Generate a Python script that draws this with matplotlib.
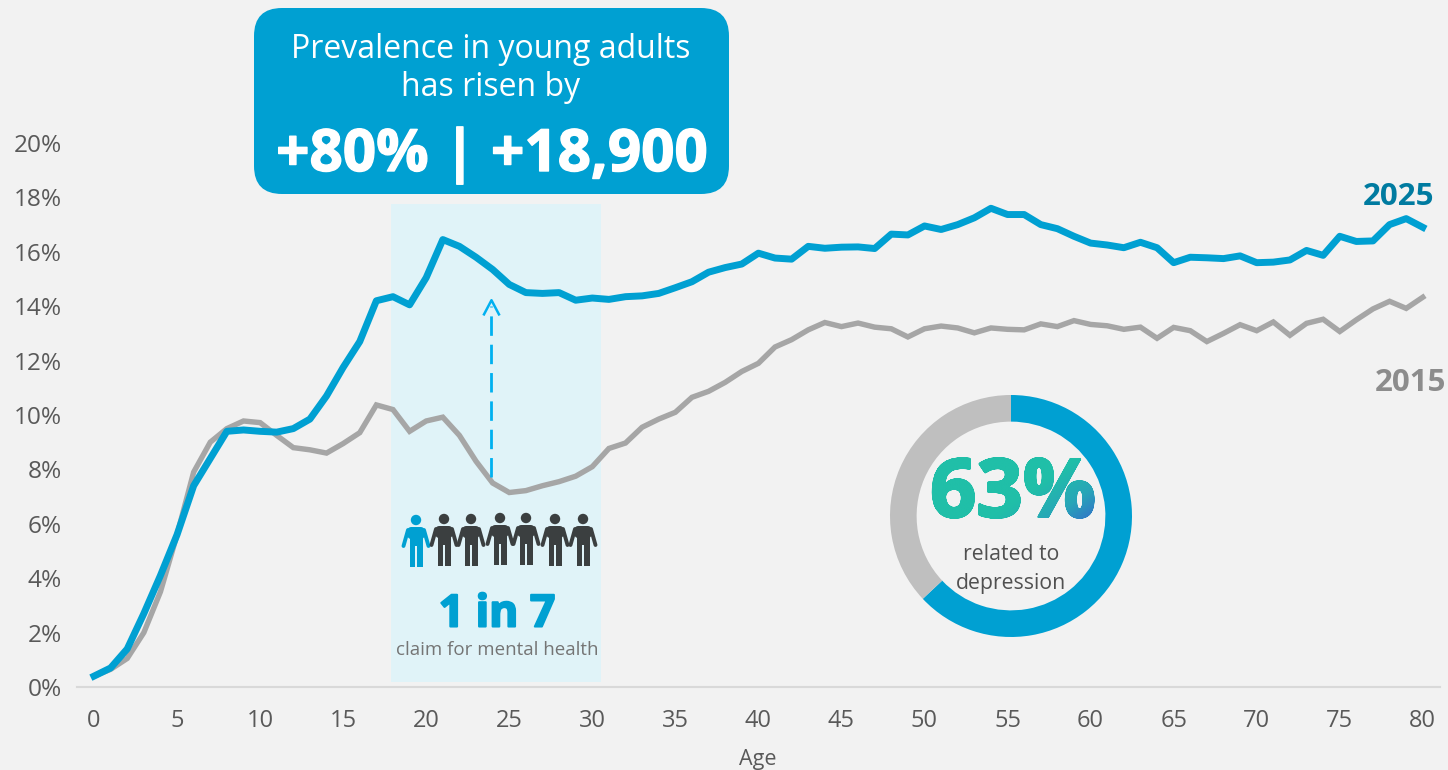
import numpy as np
import matplotlib
matplotlib.use('Agg')
import matplotlib.pyplot as plt
from matplotlib.patches import FancyBboxPatch, Rectangle, Circle, PathPatch
from matplotlib.textpath import TextPath
from matplotlib.font_manager import FontProperties
from matplotlib.path import Path
from matplotlib.transforms import Affine2D
from matplotlib.colors import LinearSegmentedColormap
import matplotlib.patheffects as pe

plt.rcParams['font.family'] = ['Open Sans', 'DejaVu Sans']

age = list(range(81))
y2025 = [0.4, 0.7, 1.4, 2.7, 4.1, 5.6, 7.4, 8.4, 9.4, 9.45,
         9.4, 9.37, 9.5, 9.85, 10.7, 11.75, 12.7, 14.2, 14.35, 14.05,
         15.05, 16.45, 16.2, 15.8, 15.35, 14.8, 14.5, 14.47, 14.5, 14.22,
         14.3, 14.25, 14.35, 14.38, 14.47, 14.68, 14.9, 15.25, 15.42, 15.55,
         15.95, 15.77, 15.73, 16.2, 16.13, 16.17, 16.18, 16.12, 16.65, 16.62,
         16.95, 16.82, 17.0, 17.25, 17.6, 17.37, 17.37, 17.0, 16.85, 16.57,
         16.32, 16.25, 16.15, 16.35, 16.15, 15.6, 15.8, 15.78, 15.75, 15.85,
         15.6, 15.62, 15.7, 16.05, 15.87, 16.57, 16.38, 16.4, 17.0, 17.22, 16.9]
y2015 = [0.4, 0.65, 1.05, 2.0, 3.5, 5.6, 7.9, 9.0, 9.5, 9.78,
         9.72, 9.25, 8.8, 8.72, 8.6, 8.95, 9.35, 10.37, 10.2, 9.4,
         9.78, 9.92, 9.25, 8.3, 7.5, 7.15, 7.22, 7.4, 7.55, 7.75,
         8.1, 8.77, 8.97, 9.55, 9.85, 10.1, 10.65, 10.87, 11.2, 11.6,
         11.9, 12.5, 12.77, 13.13, 13.4, 13.25, 13.38, 13.23, 13.17, 12.87,
         13.17, 13.27, 13.2, 13.02, 13.2, 13.15, 13.13, 13.35, 13.25, 13.47,
         13.33, 13.28, 13.15, 13.23, 12.82, 13.22, 13.1, 12.7, 13.0, 13.32,
         13.1, 13.42, 12.93, 13.37, 13.52, 13.07, 13.5, 13.9, 14.18, 13.92, 14.33]
xticks = list(range(0, 81, 5))
yticks = list(range(0, 21, 2))
donut_share = [63, 37]

W, H = 1448, 770
BG = '#F2F2F2'
BLUE = '#00A0D2'
GREY = '#A6A6A6'
DARK = '#3B3F40'

fig = plt.figure(figsize=(W / 100, H / 100), dpi=100, facecolor=BG)

# pixel canvas for the decoration, sits under the chart
deco = fig.add_axes([0, 0, 1, 1], zorder=0)
deco.set_xlim(0, W)
deco.set_ylim(H, 0)
deco.axis('off')

ax = fig.add_axes([77 / W, (H - 687) / H, (1440 - 77) / W, (687 - 143) / H], zorder=1)
ax.patch.set_alpha(0)
ax.plot(age, y2015, color=GREY, lw=3.9, solid_joinstyle='miter', clip_on=False)
ax.plot(age, y2025, color=BLUE, lw=5, solid_joinstyle='round', clip_on=False)
ax.set_xlim((77 - 94) / 16.61, (1440 - 94) / 16.61)
ax.set_ylim(0, 20)
ax.set_xticks(xticks)
ax.set_yticks(yticks)
ax.set_yticklabels([f'{v}%' for v in yticks])
ax.tick_params(length=0, labelcolor='#595959')
ax.tick_params(axis='x', pad=16, labelsize=17)
ax.tick_params(axis='y', pad=11, labelsize=17.6)
for s in ['top', 'left', 'right']:
    ax.spines[s].set_visible(False)
ax.spines['bottom'].set_color('#D9D9D9')
ax.spines['bottom'].set_linewidth(1.5)

# band and callout
deco.add_patch(Rectangle((391, 204), 210, 478, fc='#E0F3F8', ec='none'))
deco.add_patch(FancyBboxPatch((282, 36), 419, 130, boxstyle='round,pad=28,rounding_size=28',
                              fc=BLUE, ec='none'))
deco.text(491, 49, 'Prevalence in young adults', color='white', fontsize=23, ha='center', va='center')
deco.text(491, 87, 'has risen by', color='white', fontsize=23, ha='center', va='center')
deco.text(492, 156, '+80% | +18,900', color='white', fontsize=42, fontweight='bold', ha='center', va='center',
          path_effects=[pe.withStroke(linewidth=1, foreground='white')])

# dashed arrow
ax.plot([23.93, 23.93], [7.72, 14.0], color='#00B0F0', lw=2, dashes=(7, 3.2))
ax.plot([23.48, 23.93, 24.38], [13.7, 14.22, 13.7], color='#00B0F0', lw=1.8)

# people
people_x = [416, 444, 471, 500, 526, 555, 583]
people_y = [520, 519, 519, 518, 518, 519, 519]
for i, (cx, hy) in enumerate(zip(people_x, people_y)):
    c = BLUE if i == 0 else DARK
    deco.add_patch(Circle((cx, hy), 5.2, fc=c, ec='none'))
    deco.add_patch(FancyBboxPatch((cx - 8.5, hy + 7), 17, 12, boxstyle='round,pad=0,rounding_size=4', fc=c, ec='none'))
    deco.add_patch(Rectangle((cx - 6.5, hy + 14), 13, 12, fc=c, ec='none'))
    deco.add_patch(Rectangle((cx - 6.5, hy + 20), 5.6, 27, fc=c, ec='none'))
    deco.add_patch(Rectangle((cx + 0.9, hy + 20), 5.6, 27, fc=c, ec='none'))
    deco.plot([cx - 8, cx - 12.5], [hy + 10, hy + 26], color=c, lw=2.8, solid_capstyle='round')
    deco.plot([cx + 8, cx + 12.5], [hy + 10, hy + 26], color=c, lw=2.8, solid_capstyle='round')

deco.text(497, 615, '1 in 7', color=BLUE, fontsize=32, fontweight='bold', ha='center', va='center',
          path_effects=[pe.withStroke(linewidth=1.5, foreground=BLUE)])
deco.text(497, 650, 'claim for mental health', color='#757575', fontsize=13.5, ha='center', va='center')

# labels at the line ends
deco.text(1399, 197, '2025', color='#007BA0', fontsize=22.5, fontweight='bold', ha='center', va='center')
deco.text(1410, 383, '2015', color='#8C8C8C', fontsize=22.5, fontweight='bold', ha='center', va='center')
deco.text(758, 759, 'Age', color='#595959', fontsize=15.5, ha='center', va='center')

# donut
cx, cy, r = 1011, 516, 121
dn = fig.add_axes([(cx - r) / W, (H - cy - r) / H, 2 * r / W, 2 * r / H], zorder=0.5)
dn.pie(donut_share, colors=[BLUE, '#BFBFBF'], startangle=90, counterclock=False, radius=1,
       wedgeprops={'width': 0.22, 'edgecolor': 'none'})
dn.set_xlim(-1, 1)
dn.set_ylim(-1, 1)
dn.patch.set_alpha(0)

# 63% : real text with a gradient laid over it
size63 = 58.5
grow = 1.0
fp = FontProperties(family='Open Sans', weight='bold')
tx, ty = 930, 517
deco.text(tx, ty, '63%', color='#20BFA8', fontsize=size63, family='Open Sans', fontweight='bold',
          ha='left', va='baseline', zorder=3,
          path_effects=[pe.withStroke(linewidth=grow * 2 * 0.72, foreground='#20BFA8')])
tp = TextPath((0, 0), '63%', size=size63 * 100 / 72, prop=fp)
copies = [tp.transformed(Affine2D().translate(grow * np.cos(a), grow * np.sin(a)))
          for a in np.linspace(0, 2 * np.pi, 12, endpoint=False)]
clip = PathPatch(Path.make_compound_path(*copies),
                 transform=Affine2D().scale(1, -1).translate(tx, ty) + deco.transData,
                 fc='none', ec='none')
deco.add_patch(clip)
cmap = LinearSegmentedColormap.from_list('g', [(0, '#20BFA8'), (0.58, '#20BFA8'), (0.8, '#28A5B8'), (1, '#3468CC')])
xx, yy = np.meshgrid(np.linspace(0, 1, 200), np.linspace(0, 1, 100))
im = deco.imshow(xx * 0.65 + yy * 0.35, cmap=cmap, extent=(925, 1100, 522, 455), aspect='auto',
                 vmin=0, vmax=1, zorder=4)
im.set_clip_path(clip)
deco.set_xlim(0, W)
deco.set_ylim(H, 0)

deco.text(1011, 555, 'related to', color='#505050', fontsize=15.3, ha='center', va='center', zorder=5)
deco.text(1011, 584, 'depression', color='#505050', fontsize=15.3, ha='center', va='center', zorder=5)

fig.savefig('out.png', dpi=100, facecolor=BG)
